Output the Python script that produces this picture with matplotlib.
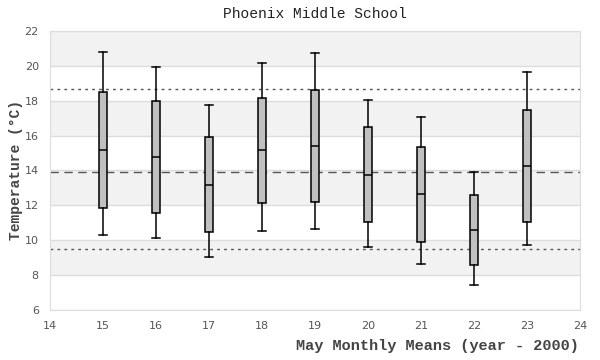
import matplotlib
matplotlib.use("Agg")
import matplotlib.pyplot as plt

years = [15, 16, 17, 18, 19, 20, 21, 22, 23]
whisker_lo = [10.31, 10.14, 9.05, 10.54, 10.65, 9.62, 8.65, 7.45, 9.74]
q1 = [11.85, 11.57, 10.48, 12.14, 12.19, 11.05, 9.91, 8.57, 11.05]
median = [15.17, 14.77, 13.17, 15.17, 15.41, 13.75, 12.65, 10.59, 14.27]
q3 = [18.48, 17.97, 15.93, 18.14, 18.59, 16.48, 15.34, 12.59, 17.47]
whisker_hi = [20.80, 19.91, 17.74, 20.15, 20.71, 18.04, 17.05, 13.91, 19.64]

overall_mean = 13.91
upper_ref = 18.65
lower_ref = 9.51

mono = "Liberation Mono"

fig = plt.figure(figsize=(6, 3.6), dpi=100)
ax = fig.add_axes([0.0833, 0.139, 0.8834, 0.7753])

# alternating background bands
for lo in range(8, 22, 4):
    ax.axhspan(lo, lo + 2, color="#f2f2f2", zorder=0, lw=0)
for y in range(6, 23, 2):
    ax.axhline(y, color="#dddddd", lw=1, zorder=0.5)

ax.axhline(upper_ref, color="#555555", lw=1, ls=(0, (2, 3)), zorder=1)
ax.axhline(lower_ref, color="#555555", lw=1, ls=(0, (2, 3)), zorder=1)
ax.axhline(overall_mean, color="#555555", lw=1, ls=(0, (6, 4)), zorder=1)

stats = []
for i in range(len(years)):
    stats.append({"whislo": whisker_lo[i], "q1": q1[i], "med": median[i],
                  "q3": q3[i], "whishi": whisker_hi[i], "fliers": []})

ax.bxp(stats, positions=years, widths=0.16, patch_artist=True,
       showfliers=False, capwidths=0.16,
       boxprops=dict(facecolor="#c0c0c0", edgecolor="black", lw=1.1),
       medianprops=dict(color="black", lw=1.1),
       whiskerprops=dict(color="black", lw=1.1),
       capprops=dict(color="black", lw=1.1),
       manage_ticks=False)

ax.set_xlim(14, 24)
ax.set_ylim(6, 22)
ax.set_xticks(range(14, 25))
ax.set_yticks(range(6, 23, 2))
ax.tick_params(length=0, labelsize=8, colors="#555555", pad=8)
for s in ax.spines.values():
    s.set_color("#dddddd")

ax.set_title("Phoenix Middle School", fontfamily=mono, fontsize=10.5,
             color="#222222", pad=9)
ax.set_xlabel("May Monthly Means (year - 2000)", fontfamily=mono,
              fontsize=11, fontweight="bold", color="#444444", ha="right")
ax.xaxis.set_label_coords(0.997, -0.105)
ax.set_ylabel("Temperature (°C)", fontfamily=mono, fontsize=10.5,
              fontweight="bold", color="#444444")
ax.yaxis.set_label_coords(-0.05, 0.5)

fig.savefig("out.png", dpi=100)
